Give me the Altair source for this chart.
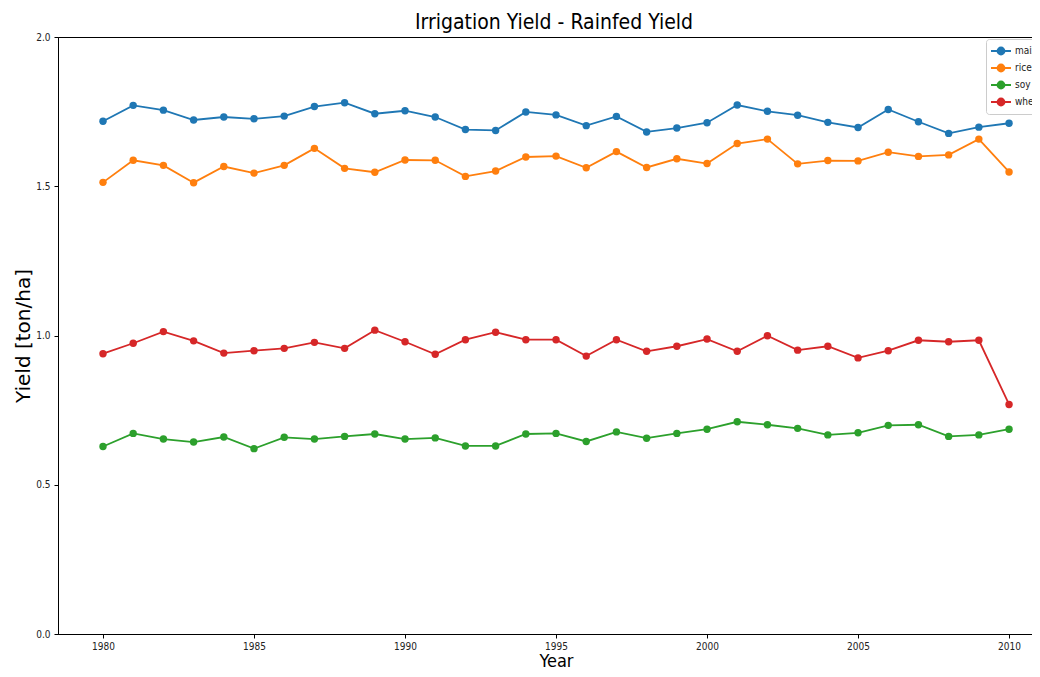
import altair as alt
import pandas as pd

years = list(range(1980, 2011))
crops = ["maize", "rice", "soy", "wheat"]
colors = ["#1f77b4", "#ff7f0e", "#2ca02c", "#d62728"]

maize = [1.718, 1.771, 1.755, 1.722, 1.732, 1.726, 1.735, 1.767, 1.780, 1.743,
         1.753, 1.732, 1.690, 1.687, 1.749, 1.739, 1.703, 1.734, 1.682, 1.695,
         1.713, 1.772, 1.751, 1.738, 1.714, 1.697, 1.757, 1.716, 1.677, 1.698,
         1.711]
rice = [1.513, 1.587, 1.570, 1.512, 1.566, 1.544, 1.570, 1.627, 1.560, 1.547,
        1.588, 1.587, 1.533, 1.551, 1.598, 1.601, 1.562, 1.616, 1.563, 1.592,
        1.576, 1.643, 1.658, 1.575, 1.586, 1.585, 1.614, 1.600, 1.605, 1.658,
        1.548]
soy = [0.628, 0.672, 0.653, 0.643, 0.660, 0.621, 0.659, 0.653, 0.662, 0.670,
       0.653, 0.657, 0.630, 0.630, 0.670, 0.672, 0.645, 0.677, 0.656, 0.672,
       0.686, 0.711, 0.701, 0.689, 0.667, 0.674, 0.699, 0.701, 0.662, 0.667,
       0.686]
wheat = [0.939, 0.974, 1.013, 0.982, 0.941, 0.949, 0.957, 0.977, 0.957, 1.018,
         0.979, 0.937, 0.986, 1.011, 0.986, 0.986, 0.931, 0.986, 0.947, 0.964,
         0.988, 0.947, 0.999, 0.951, 0.964, 0.925, 0.949, 0.984, 0.979, 0.984,
         0.769]

x_ticks = [1980, 1985, 1990, 1995, 2000, 2005, 2010]
y_ticks = [0.0, 0.5, 1.0, 1.5, 2.0]

rows = []
for crop, vals in zip(crops, [maize, rice, soy, wheat]):
    for yr, v in zip(years, vals):
        rows.append({"Year": yr, "crop": crop, "value": v})
df = pd.DataFrame(rows)

tick_font = "DejaVu Sans Condensed"

# legend glyph: short line with a dot, shifted 3px right of the layout centre
legend_symbol = ("M-1,0L1.857,0M-0.0714,0A0.5,0.5,0,1,1,0.9286,0"
                 "A0.5,0.5,0,1,1,-0.0714,0Z")

chart = alt.Chart(df).mark_line(
    strokeWidth=1.8,
    point=alt.OverlayMarkDef(filled=True, size=55, opacity=1),
).encode(
    x=alt.X("Year:Q",
            scale=alt.Scale(domain=[1978.51, 2010.76], nice=False, zero=False),
            axis=alt.Axis(values=x_ticks, format="d", title="Year",
                          titleFont=tick_font, titleFontSize=18,
                          titleFontWeight="normal", titleColor="#000",
                          titleX=498, titleY=32, titleBaseline="alphabetic",
                          labelFont=tick_font, labelFontSize=10,
                          labelColor="#222", labelPadding=3,
                          tickColor="#000", tickSize=4, domainColor="#000",
                          grid=False)),
    y=alt.Y("value:Q",
            scale=alt.Scale(domain=[0, 2], nice=False),
            axis=alt.Axis(values=y_ticks, format=".1f", title="Yield [ton/ha]",
                          titleFont="DejaVu Sans", titleFontSize=20,
                          titleFontWeight="normal", titleColor="#000",
                          titleX=-35, titleBaseline="middle",
                          labelFont=tick_font, labelFontSize=10,
                          labelColor="#222", labelPadding=4,
                          tickColor="#000", tickSize=4, domainColor="#000",
                          grid=False)),
    color=alt.Color("crop:N",
                    scale=alt.Scale(domain=crops, range=colors),
                    legend=alt.Legend(title=None, orient="none",
                                      legendX=928, legendY=2,
                                      symbolType=legend_symbol,
                                      symbolSize=196, symbolStrokeWidth=1.8,
                                      labelOffset=9,
                                      labelFont=tick_font, labelFontSize=10,
                                      labelColor="#222", rowPadding=1,
                                      fillColor="white", strokeColor="#ccc",
                                      cornerRadius=3, padding=4)),
).properties(
    width=974,
    height=597,
    title=alt.TitleParams("Irrigation Yield - Rainfed Yield",
                          font=tick_font, fontSize=21, fontWeight="normal",
                          color="#000", frame="group", offset=2, dx=9, dy=3),
    autosize=alt.AutoSizeParams(type="none"),
    padding={"left": 50, "top": 29, "right": 0, "bottom": 35},
).configure_view(stroke="#000", strokeWidth=1)

chart.save("out.html", embed_options={"renderer": "svg", "actions": False})
